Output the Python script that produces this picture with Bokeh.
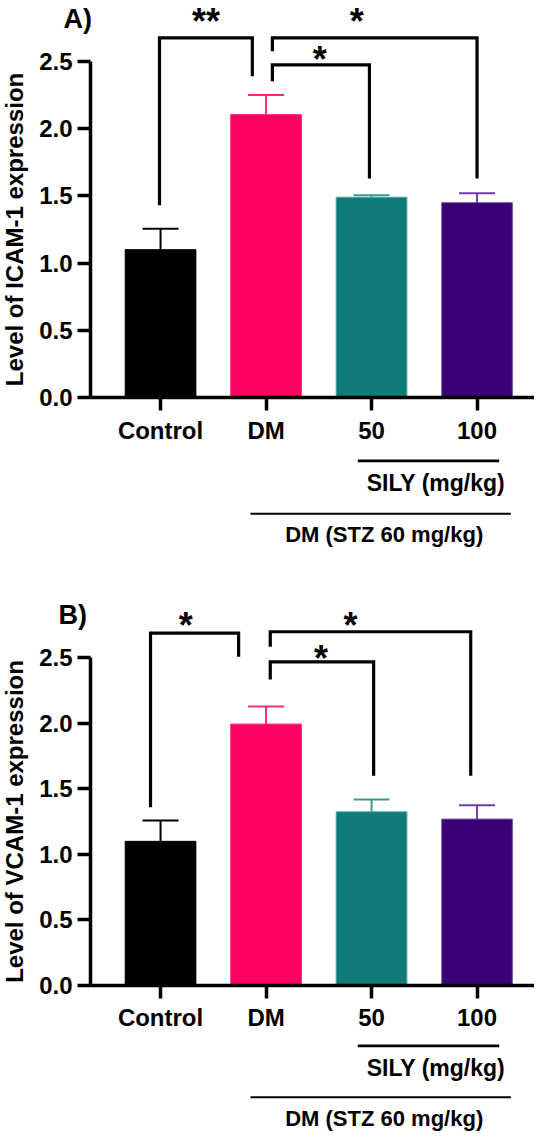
from bokeh.plotting import figure
from bokeh.models import (Range1d, LinearAxis, FixedTicker, PrintfTickFormatter,
                          ColumnDataSource)
from bokeh.layouts import column
from bokeh.embed import file_html
from bokeh.resources import INLINE
from bokeh.core.properties import value

# ---------------- data ----------------
groups = ["Control", "DM", "50", "100"]
group_x = [1, 2, 3, 4]
bar_colors = ["#000000", "#FF0062", "#0E7B79", "#3B0074"]
edge_colors = ["#000000", "#FF2A78", "#4FA3A1", "#7A52B5"]
err_colors = ["#000000", "#FF2A78", "#3E9896", "#6A3FA8"]

y_ticks = [0.0, 0.5, 1.0, 1.5, 2.0, 2.5]

icam_mean = [1.10, 2.105, 1.49, 1.45]
icam_sem = [0.155, 0.145, 0.015, 0.07]
vcam_mean = [1.10, 1.995, 1.325, 1.27]
vcam_sem = [0.16, 0.135, 0.095, 0.105]

# significance brackets: left leg x, right leg x, bar height, left-leg end, right-leg end
icam_br_x0 = [0.99, 2.06, 2.06]
icam_br_x1 = [1.87, 2.98, 4.00]
icam_br_top = [2.676, 2.475, 2.676]
icam_br_y0 = [1.43, 2.353, 2.577]
icam_br_y1 = [2.39, 1.63, 1.63]
icam_star = ["**", "*", "*"]
icam_star_x = [1.43, 2.51, 2.86]
icam_star_y = [2.86, 2.577, 2.86]

vcam_br_x0 = [0.905, 2.04, 2.04]
vcam_br_x1 = [1.74, 3.02, 3.94]
vcam_br_top = [2.69, 2.47, 2.70]
vcam_br_y0 = [1.36, 2.335, 2.585]
vcam_br_y1 = [2.51, 1.60, 1.60]
vcam_star = ["*", "*", "*"]
vcam_star_x = [1.24, 2.52, 2.80]
vcam_star_y = [2.81, 2.56, 2.81]

# group annotations under the x axis
sily_label = "SILY (mg/kg)"
sily_span = [2.87, 4.21]
sily_text_x = 3.61
dm_label = "DM (STZ 60 mg/kg)"
dm_span = [1.853, 4.32]
dm_text_x = 3.12

FONT = value("Liberation Sans")
X_START, Y_AXIS_AT = -0.517, 0.337
X_END = X_START + 534 / 105.5


def make_panel(mean, sem, ylabel, plabel, plabel_xy, bx0, bx1, btop, by0, by1,
               stars, sx, sy, y_start, y_end, height, sily_y, sily_ty, dm_y, dm_ty):
    p = figure(width=534, height=height,
               x_range=Range1d(X_START, X_END), y_range=Range1d(y_start, y_end),
               x_axis_type=None, y_axis_type=None,
               output_backend="svg", toolbar_location=None, tools="",
               min_border=0, outline_line_color=None)
    p.background_fill_color = "white"
    p.border_fill_color = "white"

    upper = [m + s for m, s in zip(mean, sem)]
    src = ColumnDataSource(dict(x=group_x, top=mean, upper=upper,
                                color=bar_colors, edge=edge_colors, errc=err_colors))
    p.segment(x0="x", y0="top", x1="x", y1="upper", line_color="errc",
              line_width=2, source=src)
    p.scatter(x="x", y="upper", marker="dash", size=36, line_color="errc",
              line_width=2, source=src)
    p.vbar(x="x", top="top", bottom=0, width=0.67, fill_color="color",
           line_color="edge", line_width=1, source=src)

    # brackets
    xs = [[a, a, b, b] for a, b in zip(bx0, bx1)]
    ys = [[l, t, t, r] for l, t, r in zip(by0, btop, by1)]
    p.multi_line(xs=xs, ys=ys, line_color="black", line_width=3.2,
                 line_join="miter")
    p.text(x=sx, y=sy, text=stars, text_font=FONT, text_font_style="bold",
           text_font_size="36px", text_align="center",
           text_baseline="middle", y_offset=8, text_color="black")

    # panel label
    p.text(x=[plabel_xy[0]], y=[plabel_xy[1]], text=[plabel], text_font=FONT,
           text_font_style="bold", text_font_size="27px", text_align="left",
           text_baseline="middle", text_color="black")

    # group annotations
    p.segment(x0=[sily_span[0]], y0=[sily_y], x1=[sily_span[1]], y1=[sily_y],
              line_color="black", line_width=2.8)
    p.text(x=[sily_text_x], y=[sily_ty], text=[sily_label],
           text_font=FONT, text_font_style="bold", text_font_size="23px",
           text_align="center", text_baseline="middle", text_color="black")
    p.segment(x0=[dm_span[0]], y0=[dm_y], x1=[dm_span[1]], y1=[dm_y],
              line_color="black", line_width=2)
    p.text(x=[dm_text_x], y=[dm_ty], text=[dm_label],
           text_font=FONT, text_font_style="bold", text_font_size="22px",
           text_align="center", text_baseline="middle", text_color="black")

    # axes
    xaxis = LinearAxis(fixed_location=0, ticker=FixedTicker(ticks=group_x),
                       major_label_overrides={float(x): g for x, g in zip(group_x, groups)},
                       bounds=(Y_AXIS_AT, X_END))
    yaxis = LinearAxis(fixed_location=Y_AXIS_AT, ticker=FixedTicker(ticks=y_ticks),
                       formatter=PrintfTickFormatter(format="%.1f"),
                       bounds=(0, 2.5), axis_label=ylabel)
    for ax in (xaxis, yaxis):
        ax.axis_line_width = 3.5
        ax.axis_line_color = "black"
        ax.major_tick_line_width = 3.5
        ax.major_tick_line_color = "black"
        ax.major_tick_out = 13
        ax.major_tick_in = 0
        ax.minor_tick_line_color = None
        ax.major_label_text_font = "Liberation Sans"
        ax.major_label_text_font_style = "bold"
        ax.major_label_text_font_size = "24px"
        ax.major_label_text_color = "black"
    xaxis.major_label_standoff = 6
    yaxis.major_label_standoff = 5
    yaxis.axis_label_text_font = "Liberation Sans"
    yaxis.axis_label_text_font_style = "bold"
    yaxis.axis_label_text_font_size = "24px"
    yaxis.axis_label_text_color = "black"
    yaxis.axis_label_standoff = 8
    p.add_layout(yaxis, "left")
    p.add_layout(xaxis, "below")
    return p


HA, HB = 599, 532
UA, UB = 134.4, 131.0
pa = make_panel(icam_mean, icam_sem, "Level of ICAM-1 expression", "A)", (0.081, 2.82),
                icam_br_x0, icam_br_x1, icam_br_top, icam_br_y0, icam_br_y1,
                icam_star, icam_star_x, icam_star_y,
                2.954 - HA / UA, 2.954, HA, -0.471, -0.635, -0.865, -1.02)
pb = make_panel(vcam_mean, vcam_sem, "Level of VCAM-1 expression", "B)", (0.033, 2.83),
                vcam_br_x0, vcam_br_x1, vcam_br_top, vcam_br_y0, vcam_br_y1,
                vcam_star, vcam_star_x, vcam_star_y,
                -1.115, -1.115 + HB / UB, HB, -0.462, -0.63, -0.853, -1.017)

layout = column(pa, pb, spacing=0)
open("out.html", "w").write(file_html(layout, INLINE))
